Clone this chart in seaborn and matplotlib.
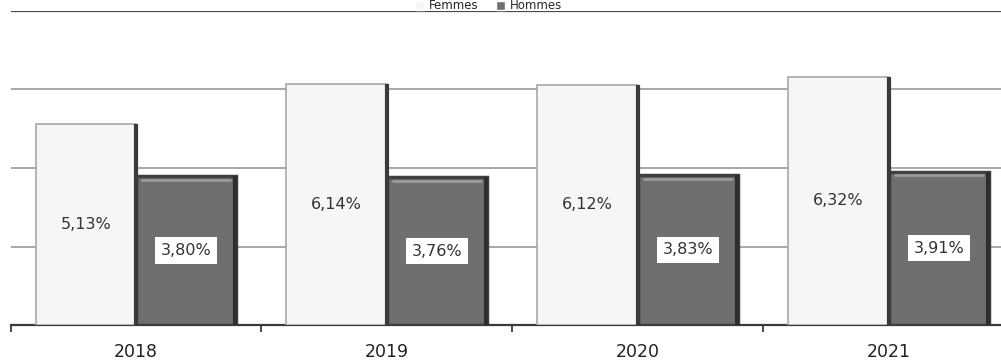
import matplotlib
matplotlib.use("Agg")
import matplotlib.pyplot as plt
import seaborn as sns
import pandas as pd

years = ["2018", "2019", "2020", "2021"]
femmes = [5.13, 6.14, 6.12, 6.32]
hommes = [3.80, 3.76, 3.83, 3.91]
series = ["Femmes", "Hommes"]
grid_values = [2, 4, 6]

df = pd.DataFrame({
    "annee": years * 2,
    "taux": femmes + hommes,
    "sexe": [series[0]] * len(years) + [series[1]] * len(years),
})

sns.set_theme(style="white")
plt.rcParams["font.family"] = ["DejaVu Sans"]

fig = plt.figure(figsize=(10.01, 3.62), dpi=100)
ax = fig.add_axes([0.0105, 0.102, 1.0025, 0.868])

palette = {"Femmes": "#f6f6f6", "Hommes": "#6f6f6f"}
sns.barplot(data=df, x="annee", y="taux", hue="sexe", hue_order=series,
            palette=palette, ax=ax, width=0.8, saturation=1, legend=True,
            zorder=3)

ax.set_xlim(-0.5, len(years) - 0.5)
ax.set_ylim(0, 8)

# grid lines behind the bars, darker line on top of the plot area
for g in grid_values:
    ax.axhline(g, color="#8f8f8f", lw=1.1, zorder=1)
ax.axhline(8, color="#4a4a4a", lw=1.6, zorder=1)

# bar styling: light bars with a dark right edge, dark bars with a bevelled rim
fem_bars, hom_bars = ax.containers[0], ax.containers[1]
for p in fem_bars:
    p.set_edgecolor("#a8a8a8")
    p.set_linewidth(1.2)
    x0, w, h = p.get_x(), p.get_width(), p.get_height()
    ax.plot([x0 + w, x0 + w], [0, h], color="#3a3a3a", lw=3, zorder=4,
            solid_capstyle="butt")
for p in hom_bars:
    p.set_edgecolor("#404040")
    p.set_linewidth(2.5)
    x0, w, h = p.get_x(), p.get_width(), p.get_height()
    ax.plot([x0 + 0.02, x0 + w - 0.02], [h - 0.1, h - 0.1], color="#9a9a9a",
            lw=2, zorder=4, solid_capstyle="butt")
    ax.plot([x0 + w - 0.004, x0 + w - 0.004], [0, h], color="#2e2e2e", lw=3,
            zorder=4, solid_capstyle="butt")

fmt = lambda v: f"{v:.2f}%".replace(".", ",")
ax.bar_label(fem_bars, labels=[fmt(v) for v in femmes], label_type="center",
             fontsize=11.5, color="#333333", zorder=5)
ax.bar_label(hom_bars, labels=[fmt(v) for v in hommes], label_type="center",
             fontsize=11.5, color="#333333", zorder=5,
             bbox=dict(boxstyle="square,pad=0.35", fc="white", ec="none"))

# axes: only the baseline, with tick marks at category boundaries
for side in ["left", "right", "top"]:
    ax.spines[side].set_visible(False)
ax.spines["bottom"].set_color("#3a3a3a")
ax.spines["bottom"].set_linewidth(1.6)
ax.set_yticks([])
ax.set_xticks(range(len(years)))
ax.set_xticklabels(years)
ax.set_xticks([i - 0.5 for i in range(len(years) + 1)], minor=True)
ax.tick_params(axis="x", which="major", length=0, pad=13, labelsize=12.5,
               labelcolor="#222222")
ax.tick_params(axis="x", which="minor", length=5, width=1.3, color="#3a3a3a",
               direction="out", bottom=True)
ax.set_xlabel("")
ax.set_ylabel("")

handles, labels = ax.get_legend_handles_labels()
ax.legend(handles, labels, loc="center", bbox_to_anchor=(0.488, 0.984),
          bbox_transform=fig.transFigure, ncol=2, frameon=False,
          fontsize=8.5, handlelength=0.8, handleheight=0.8,
          columnspacing=1.5, handletextpad=0.4, borderpad=0.1)

fig.savefig("out.png", dpi=100)
